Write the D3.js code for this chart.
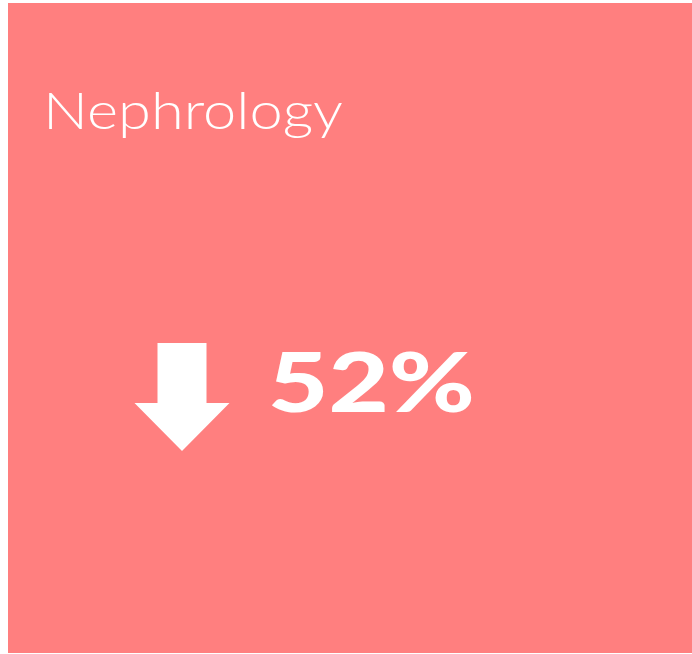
<!DOCTYPE html>
<html>
<head>
<meta charset="utf-8">
<script src="https://cdn.jsdelivr.net/npm/d3@7"></script>
<style>
  body { margin: 0; background: #ffffff; overflow: hidden; }
</style>
</head>
<body>
<div id="card"></div>
<script>
// KPI tile: department name + change vs previous period

const kpi_titles = ["Nephrology"];
const kpi_changes = [-0.52];

const card_width = 692;
const card_height = 654;
const card_margin = {top: 3, left: 8};
const card_colorBG = "#ff7f7f";
const card_colorText = "#ffffff";

function mkCard(idName) {
    let svg = d3.select(idName)
        .append("svg")
        .attr("width", card_width)
        .attr("height", card_height);

    //background of tile
    svg.append("rect")
        .attr("x", card_margin.left)
        .attr("y", card_margin.top)
        .attr("width", card_width - card_margin.left)
        .attr("height", 650)
        .attr("fill", card_colorBG);

    //title
    svg.append("text")
        .attr("x", 43)
        .attr("y", 129)
        .attr("textLength", 300)
        .attr("lengthAdjust", "spacingAndGlyphs")
        .style("font-family", "Lato, 'Noto Sans', sans-serif")
        .style("font-weight", 300)
        .style("font-size", "52px")
        .style("fill", card_colorText)
        .text(kpi_titles[0]);

    let change = kpi_changes[0];

    //arrow (down when change is negative)
    let arrow = d3.path();
    let cx = 182, top = 343, shaftW = 49, headW = 95, headY = 403, tip = 451;
    arrow.moveTo(cx - shaftW / 2, top);
    arrow.lineTo(cx + shaftW / 2, top);
    arrow.lineTo(cx + shaftW / 2, headY);
    arrow.lineTo(cx + headW / 2, headY);
    arrow.lineTo(cx, tip);
    arrow.lineTo(cx - headW / 2, headY);
    arrow.lineTo(cx - shaftW / 2, headY);
    arrow.closePath();

    svg.append("path")
        .attr("d", arrow.toString())
        .attr("transform", change < 0 ? null : `rotate(180, ${cx}, ${(top + tip) / 2})`)
        .attr("fill", card_colorText);

    //value
    svg.append("text")
        .attr("x", 268)
        .attr("y", 412)
        .attr("textLength", 207)
        .attr("lengthAdjust", "spacingAndGlyphs")
        .style("font-family", "Lato, 'Noto Sans', sans-serif")
        .style("font-weight", 900)
        .style("font-size", "82px")
        .style("fill", card_colorText)
        .text(d3.format(".0%")(Math.abs(change)));
}

mkCard("#card");
</script>
</body>
</html>
